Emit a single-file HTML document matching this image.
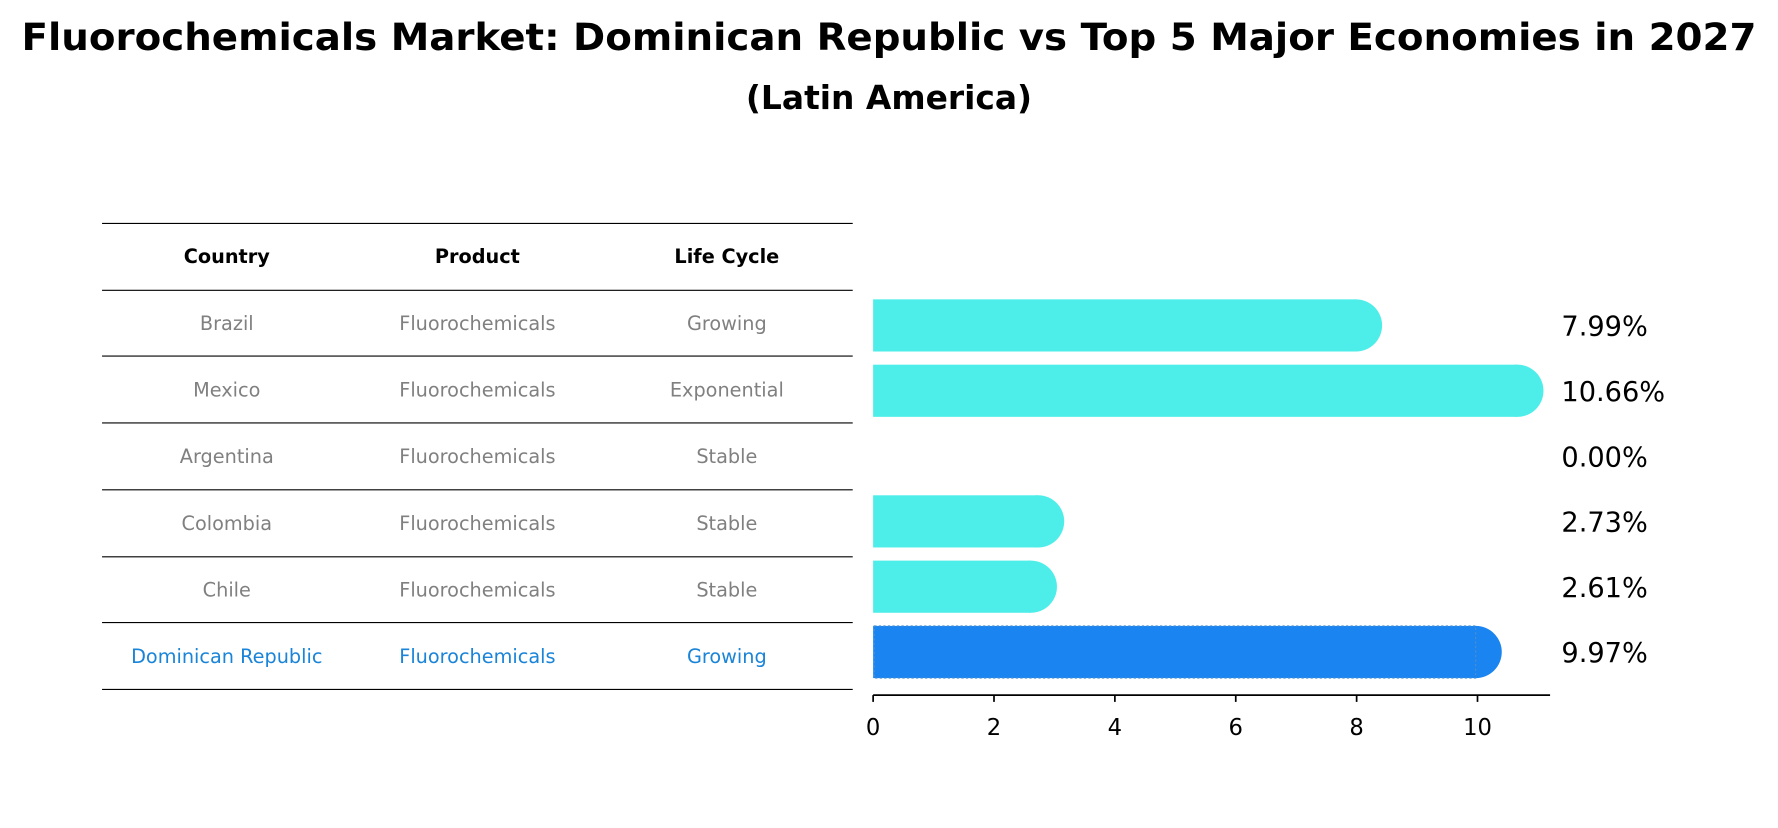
<!DOCTYPE html>
<html><head><meta charset="utf-8"><style>
body{margin:0;background:#fff;font-family:"Liberation Sans","DejaVu Sans",sans-serif}
svg text{font-family:"DejaVu Sans","Liberation Sans",sans-serif}
</style></head><body>
<svg id="c" width="1778" height="823" viewBox="0 0 1568 725.8" xmlns="http://www.w3.org/2000/svg">
<text x="784" y="44" text-anchor="middle" font-size="33" font-weight="bold" textLength="1530" lengthAdjust="spacingAndGlyphs">Fluorochemicals Market: Dominican Republic vs Top 5 Major Economies in 2027</text>
<text x="784" y="96" text-anchor="middle" font-size="29" font-weight="bold">(Latin America)</text>
<g id="tbl"></g>
<g id="bars"></g>
</svg>
<script>
const countries=["Brazil","Mexico","Argentina","Colombia","Chile","Dominican Republic"];
const products=["Fluorochemicals","Fluorochemicals","Fluorochemicals","Fluorochemicals","Fluorochemicals","Fluorochemicals"];
const lifeCycles=["Growing","Exponential","Stable","Stable","Stable","Growing"];
const values=[7.99,10.66,0.00,2.73,2.61,9.97];
const ticks=[0,2,4,6,8,10];
const NS="http://www.w3.org/2000/svg";
const tbl=document.getElementById('tbl'), bars=document.getElementById('bars');
function mk(t,a,p){const e=document.createElementNS(NS,t);for(const k in a)e.setAttribute(k,a[k]);p.appendChild(e);return e;}
const xs=v=>770+v*53.3;
const rowY=i=>287+i*57.6;
const lineYs=[197,256,314,373,432,491,549,608];
lineYs.forEach(y=>{const l=mk('line',{x1:90,x2:752,y1:y,y2:y,stroke:'#000','stroke-width':1},tbl);

});
const colX=[200,421,641];
["Country","Product","Life Cycle"].forEach((h,j)=>{const t=mk('text',{x:colX[j],y:232,'text-anchor':'middle','font-size':17,'font-weight':'bold'},tbl);t.textContent=h;

});
countries.forEach((c,i)=>{const y=(lineYs[i+1]+lineYs[i+2])/2+6;const col=i===countries.length-1?'#1a84d8':'#808080';
[c,products[i],lifeCycles[i]].forEach((s,j)=>{const t=mk('text',{x:colX[j],y:y,'text-anchor':'middle','font-size':17,fill:col},tbl);t.textContent=s;

});});
values.forEach((v,i)=>{const cy=rowY(i);const hl=i===values.length-1;const col=hl?'#1a84f0':'#4deee9';
if(v>0){const g=mk('g',{},bars);


mk('rect',{x:770,y:cy-23,width:xs(v)-770,height:46,fill:col},g);
mk('circle',{cx:xs(v),cy:cy,r:23,fill:col},g);
if(hl)mk('rect',{x:771,y:cy-23,width:xs(v)-771,height:46,fill:'none',stroke:'#4a90d0','stroke-width':1,'stroke-dasharray':'2,2'},g);}
const t=mk('text',{x:1377,y:cy+9,'font-size':24},bars);t.textContent=v.toFixed(2)+'%';

});
const ax=mk('line',{x1:770,x2:1367,y1:613,y2:613,stroke:'#000','stroke-width':1.5},bars);


ticks.forEach(v=>{mk('line',{x1:xs(v),x2:xs(v),y1:613,y2:619,stroke:'#000','stroke-width':1.5},bars);
const t=mk('text',{x:xs(v),y:648,'text-anchor':'middle','font-size':20},bars);t.textContent=v;

});
</script>
</body></html>
